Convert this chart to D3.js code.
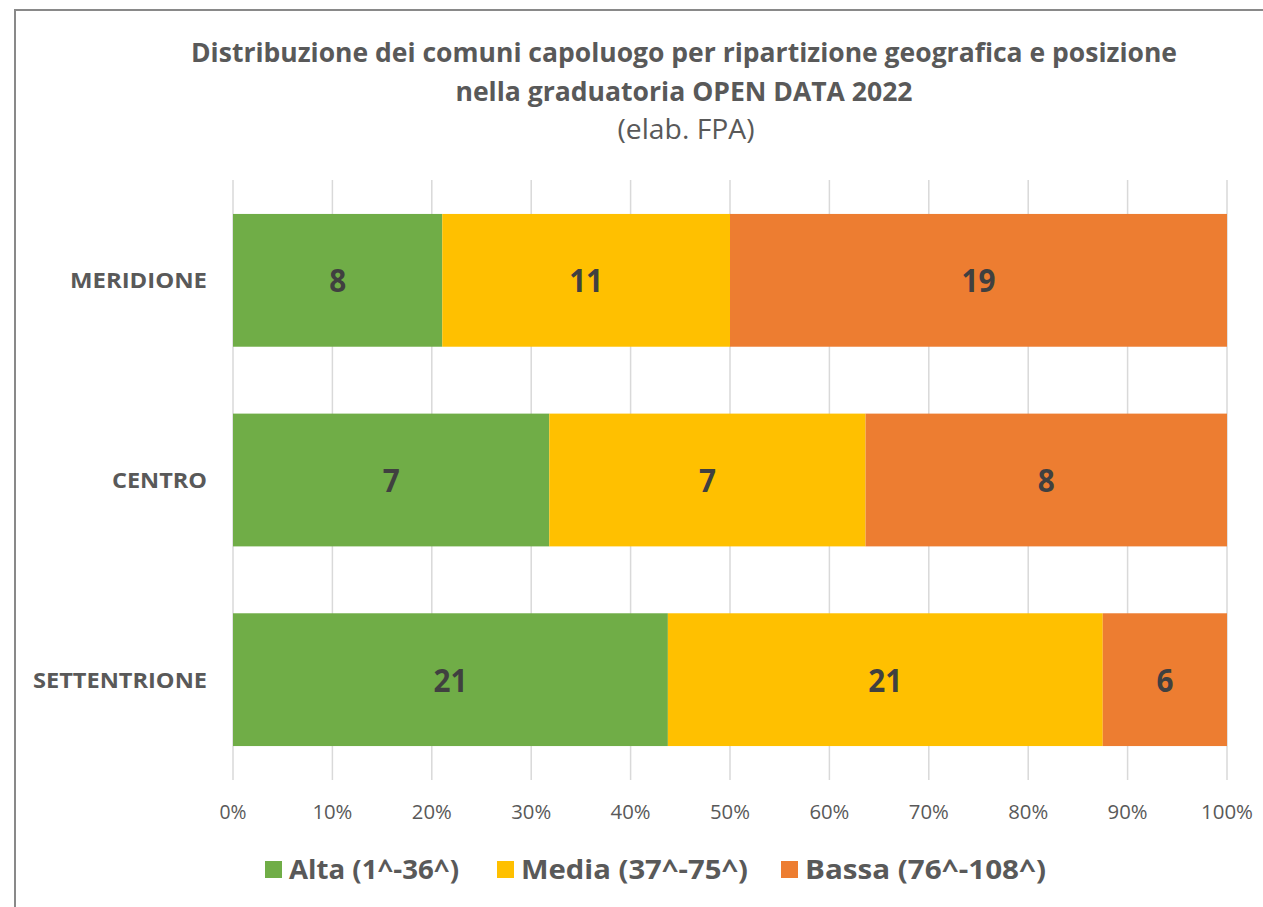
<!DOCTYPE html>
<html>
<head>
<meta charset="utf-8">
<script src="https://cdn.jsdelivr.net/npm/d3@7"></script>
<style>
  body { margin: 0; background: #fff; }
  text { font-family: "Open Sans", "Noto Sans", sans-serif; }
</style>
</head>
<body>
<div id="chart"></div>
<script>
/* data */
var regions = ["MERIDIONE", "CENTRO", "SETTENTRIONE"]
var altaVals = [8, 7, 21]
var mediaVals = [11, 7, 21]
var bassaVals = [19, 8, 6]
var seriesNames = ["Alta (1^-36^)", "Media (37^-75^)", "Bassa (76^-108^)"]
var seriesColors = ["#70ad47", "#ffc000", "#ed7d31"]
var xTicks = [0, .1, .2, .3, .4, .5, .6, .7, .8, .9, 1]

var rows = regions.map(function(r, i) {
  return { region: r, alta: altaVals[i], media: mediaVals[i], bassa: bassaVals[i] }
})
var keys = ["alta", "media", "bassa"]

/* layout */
var W = 1263, H = 907
var plot = { left: 233, right: 1227, top: 180, bottom: 780 }
var labelW = { "MERIDIONE": 137, "CENTRO": 95, "SETTENTRIONE": 174 } // matches the narrow original font

var svg = d3.select("#chart").append("svg")
  .attr("width", W)
  .attr("height", H)

/* outer border (cut off at right and bottom like the original) */
svg.append("rect")
  .attr("x", 15).attr("y", 10)
  .attr("width", W + 20).attr("height", H + 20)
  .attr("fill", "#fff")
  .attr("stroke", "#898989")
  .attr("stroke-width", 2)

/* scales */
var x = d3.scaleLinear().domain([0, 1]).range([plot.left, plot.right])
var y = d3.scaleBand().domain(regions).range([plot.top, plot.bottom]).paddingInner(0.335).paddingOuter(0.17)

/* gridlines */
svg.append("g").selectAll("line")
  .data(xTicks).join("line")
  .attr("x1", function(d) { return x(d) })
  .attr("x2", function(d) { return x(d) })
  .attr("y1", plot.top)
  .attr("y2", plot.bottom)
  .attr("stroke", "#d9d9d9")
  .attr("stroke-width", 1.5)

/* tick labels */
svg.append("g").selectAll("text")
  .data(xTicks).join("text")
  .attr("x", function(d) { return x(d) })
  .attr("y", 819)
  .attr("text-anchor", "middle")
  .attr("font-size", 20)
  .attr("fill", "#595959")
  .attr("textLength", function(d) { return d == 1 ? 52 : d == 0 ? 27 : 40 })
  .attr("lengthAdjust", "spacingAndGlyphs")
  .text(d3.format(".0%"))

/* stacked bars */
var stacked = d3.stack().keys(keys).offset(d3.stackOffsetExpand)(rows)

var layers = svg.append("g").selectAll("g")
  .data(stacked).join("g")
  .attr("fill", function(d, i) { return seriesColors[i] })

layers.selectAll("rect")
  .data(function(d) { return d }).join("rect")
  .attr("x", function(d) { return x(d[0]) })
  .attr("width", function(d) { return x(d[1]) - x(d[0]) })
  .attr("y", function(d) { return y(d.data.region) })
  .attr("height", y.bandwidth())

/* value labels */
layers.selectAll("text")
  .data(function(d) { return d.map(function(s) { s.key = d.key; return s }) }).join("text")
  .attr("x", function(d) { return (x(d[0]) + x(d[1])) / 2 })
  .attr("y", function(d) { return y(d.data.region) + y.bandwidth() / 2 + 12 })
  .attr("text-anchor", "middle")
  .attr("font-size", 33)
  .attr("font-weight", "bold")
  .attr("fill", "#404040")
  .attr("textLength", function(d) { return String(d.data[d.key]).length * 17 })
  .attr("lengthAdjust", "spacingAndGlyphs")
  .text(function(d) { return d.data[d.key] })

/* category labels */
svg.append("g").selectAll("text")
  .data(regions).join("text")
  .attr("x", 207)
  .attr("y", function(d) { return y(d) + y.bandwidth() / 2 + 8 })
  .attr("text-anchor", "end")
  .attr("font-size", 22)
  .attr("font-weight", "bold")
  .attr("fill", "#595959")
  .attr("textLength", function(d) { return labelW[d] })
  .attr("lengthAdjust", "spacingAndGlyphs")
  .text(function(d) { return d })

/* title */
svg.append("text")
  .attr("x", 684).attr("y", 62)
  .attr("text-anchor", "middle")
  .attr("font-size", 27).attr("font-weight", "bold").attr("fill", "#595959")
  .attr("textLength", 986).attr("lengthAdjust", "spacingAndGlyphs")
  .text("Distribuzione dei comuni capoluogo per ripartizione geografica e posizione")
svg.append("text")
  .attr("x", 684).attr("y", 101)
  .attr("text-anchor", "middle")
  .attr("font-size", 27).attr("font-weight", "bold").attr("fill", "#595959")
  .attr("textLength", 457).attr("lengthAdjust", "spacingAndGlyphs")
  .text("nella graduatoria OPEN DATA 2022")
svg.append("text")
  .attr("x", 686).attr("y", 139)
  .attr("text-anchor", "middle")
  .attr("font-size", 27).attr("fill", "#595959")
  .attr("textLength", 137).attr("lengthAdjust", "spacingAndGlyphs")
  .text("(elab. FPA)")

/* legend */
var legendX = [265, 497, 781]
var legendW = [170, 227, 241]
var legend = svg.append("g").selectAll("g")
  .data(seriesNames).join("g")
  .attr("transform", function(d, i) { return "translate(" + legendX[i] + ",0)" })
legend.append("rect")
  .attr("x", 0).attr("y", 861)
  .attr("width", 17).attr("height", 17)
  .attr("fill", function(d, i) { return seriesColors[i] })
legend.append("text")
  .attr("x", 24).attr("y", 879)
  .attr("font-size", 27).attr("font-weight", "bold").attr("fill", "#595959")
  .attr("textLength", function(d, i) { return legendW[i] })
  .attr("lengthAdjust", "spacingAndGlyphs")
  .text(function(d) { return d })
</script>
</body>
</html>
